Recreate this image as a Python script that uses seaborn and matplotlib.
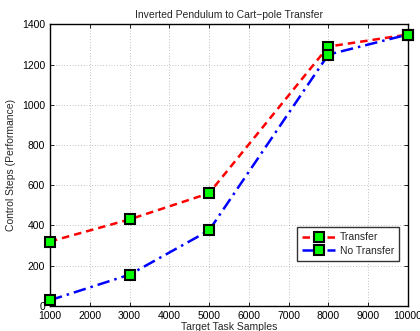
# inverted pendulum -> cart-pole transfer curve, matlab-ish look
import numpy as np
import pandas as pd
import seaborn as sns
import matplotlib
matplotlib.use("Agg")
import matplotlib.pyplot as plt

samples = [1000, 3000, 5000, 8000, 10000]
transfer = [320, 430, 560, 1290, 1350]
no_transfer = [28, 155, 375, 1250, 1350]

df = pd.DataFrame({
    "samples": samples * 2,
    "steps": transfer + no_transfer,
    "method": ["Transfer"] * len(samples) + ["No Transfer"] * len(samples),
})

sns.set_theme(style="ticks")
plt.rcParams["font.family"] = ["Liberation Sans", "DejaVu Sans"]
plt.rcParams["font.size"] = 7.5
plt.rcParams["xtick.direction"] = "in"
plt.rcParams["ytick.direction"] = "in"

fig = plt.figure(figsize=(4.2, 3.31), dpi=100)
ax = fig.add_axes([0.119, 0.076, 0.852, 0.850])

sns.lineplot(data=df, x="samples", y="steps", hue="method", style="method",
             palette={"Transfer": "red", "No Transfer": "blue"},
             dashes={"Transfer": (3, 2), "No Transfer": (5, 2, 1, 2)},
             markers={"Transfer": "s", "No Transfer": "s"},
             markersize=7.5, markerfacecolor="#00ff00", markeredgecolor="black",
             markeredgewidth=1.5, linewidth=1.8, ax=ax, clip_on=False, zorder=3)

ax.set_xlim(1000, 10000)
ax.set_ylim(0, 1400)
ax.set_xticks(range(1000, 10001, 1000))
ax.set_yticks(range(0, 1401, 200))
ax.grid(True, linestyle=(0, (1, 3)), color="#888888", linewidth=0.5)
for s in ax.spines.values():
    s.set_color("black")
    s.set_linewidth(1.0)
ax.tick_params(labelsize=7.5, length=3, width=0.6, colors="black", top=True, right=True)

ax.set_title("Inverted Pendulum to Cart\u2212pole Transfer", fontsize=7.5, pad=5)
ax.set_xlabel("Target Task Samples", fontsize=7.5, labelpad=1)
ax.set_ylabel("Control Steps (Performance)", fontsize=7.5, labelpad=4)

handles, labels = ax.get_legend_handles_labels()
leg = ax.legend(handles, labels, loc="lower right", bbox_to_anchor=(0.99, 0.14),
                fontsize=7.5, frameon=True, fancybox=False, edgecolor="black",
                handlelength=3.2, borderpad=0.5, labelspacing=0.35, handletextpad=0.4)
leg.get_frame().set_linewidth(1.0)

fig.savefig("out.png", dpi=100)
